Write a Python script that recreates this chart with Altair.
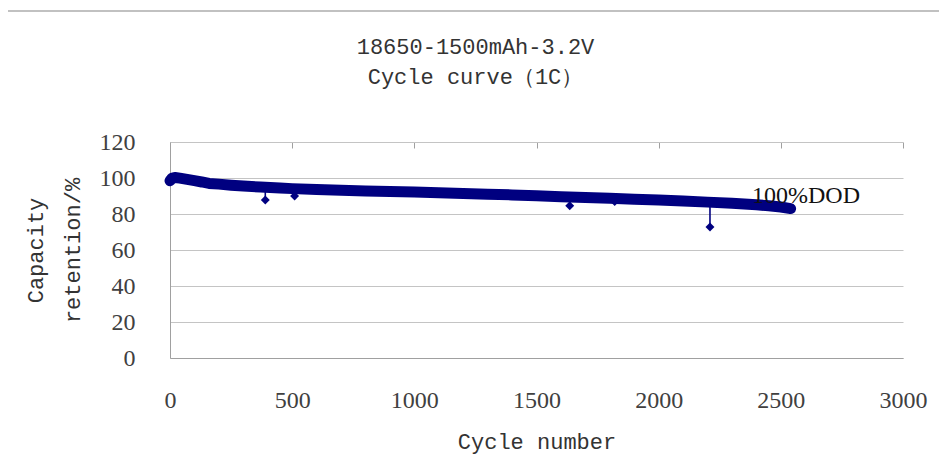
import altair as alt
import pandas as pd

# trend of the capacity-retention band
cycles = [0, 8, 20, 40, 70, 100, 130, 160, 200, 250, 300, 370, 450, 500, 600, 700, 800, 900,
          1000, 1100, 1200, 1300, 1400, 1500, 1600, 1700, 1800, 1900, 2000, 2100, 2200, 2300,
          2350, 2400, 2450, 2500, 2540]
capacity = [98.5, 99.8, 100.3, 99.9, 99.2, 98.5, 97.8, 97.0, 96.6, 96.0, 95.5, 95.0, 94.4, 94.1,
            93.6, 93.2, 92.8, 92.5, 92.2, 91.8, 91.4, 91.0, 90.6, 90.2, 89.6, 89.1, 88.7, 88.2,
            87.8, 87.2, 86.6, 86.0, 85.6, 85.1, 84.6, 83.9, 83.0]

# isolated low points (outliers) and the band value they drop from
out_cycle = [390, 510, 1636, 1820, 2210]
out_low = [87.8, 90.0, 84.6, 86.9, 72.8]
out_base = [95.0, 94.1, 89.4, 88.7, 86.6]

label_text = ["100%DOD"]
label_x = [2382]
label_y = [86.1]

x_ticks = [0, 500, 1000, 1500, 2000, 2500, 3000]
y_ticks = [0, 20, 40, 60, 80, 100, 120]

NAVY = "#000080"
W, H = 733, 216

trend = pd.DataFrame({"cycle": cycles, "cap": capacity})
outl = pd.DataFrame({"cycle": out_cycle, "low": out_low, "base": out_base})
lab = pd.DataFrame({"cycle": label_x, "cap": label_y, "t": label_text})

xs = alt.Scale(domain=[0, 3000], nice=False)
ys = alt.Scale(domain=[0, 120], nice=False)

x_axis = alt.Axis(values=x_ticks, format="d", labelOverlap=False, labelFlush=False,
                  title="Cycle number",
                  grid=True, gridDash=[6, 1000],
                  gridColor="#a0a0a0", ticks=False, labelPadding=30,
                  titleY=83, titleBaseline="middle")
y_axis = alt.Axis(values=y_ticks, format="d", labelOverlap=False, labelFlush=False,
                  tickCount=7,
                  title=["Capacity", "retention/%"], grid=True,
                  gridColor="#c4c4c4", ticks=False, labelPadding=35,
                  titleX=-135, titleY=H / 2, titleBaseline="middle", titleLineHeight=37,
                  titleAngle=270)


def X(field):
    return alt.X(field, scale=xs, axis=x_axis)


def Y(field):
    return alt.Y(field, scale=ys, axis=y_axis)


base_line = alt.Chart(trend).mark_line(
    color=NAVY, strokeWidth=11, strokeCap="round", strokeJoin="round"
).encode(x=X("cycle:Q"), y=Y("cap:Q"))

spikes = alt.Chart(outl).mark_rule(color=NAVY, strokeWidth=1.6).encode(
    x=X("cycle:Q"), y=Y("low:Q"), y2="base:Q"
)

dots = alt.Chart(outl).mark_point(shape="diamond", filled=True, size=80, color=NAVY,
                                  opacity=1).encode(x=X("cycle:Q"), y=Y("low:Q"))

label = alt.Chart(lab).mark_text(align="left", baseline="alphabetic",
                                 font="Liberation Serif", fontSize=24, color="#111111").encode(
    x=X("cycle:Q"), y=Y("cap:Q"), text="t:N"
)

border = alt.Chart(trend).mark_rule(color="#c0c0c0", strokeWidth=1.5).encode(
    x=alt.value(-165), x2=alt.value(W + 36), y=alt.value(-131)
)

chart = alt.layer(border, base_line, spikes, dots, label).properties(
    width=W, height=H,
    autosize="none",
    padding={"left": 162, "top": 134, "right": 36, "bottom": 102},
    title=alt.TitleParams(
        text=["18650-1500mAh-3.2V", "Cycle curve（1C）"],
        font="Liberation Mono", fontSize=22, fontWeight="normal", color="#333333",
        lineHeight=30, anchor="middle", frame="group", dx=-61, offset=-101,
        baseline="bottom",
    ),
).configure_view(stroke=None).configure_axis(
    domainColor="#a0a0a0",
    labelFont="Liberation Serif", labelFontSize=24, labelColor="#404040",
    titleFont="Liberation Mono", titleFontSize=22, titleFontWeight="normal",
    titleColor="#333333",
)

chart.save("out.html", embed_options={"renderer": "svg", "actions": False})
